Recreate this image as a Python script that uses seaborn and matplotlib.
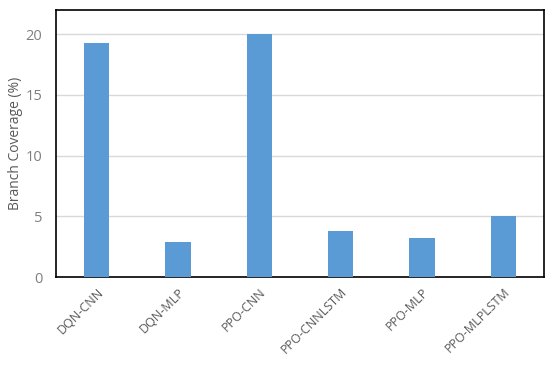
import matplotlib
matplotlib.use("Agg")
import matplotlib.pyplot as plt
import seaborn as sns
import pandas as pd

models = ["DQN-CNN", "DQN-MLP", "PPO-CNN", "PPO-CNNLSTM", "PPO-MLP", "PPO-MLPLSTM"]
coverage = [19.3, 2.9, 20.0, 3.8, 3.2, 5.0]

df = pd.DataFrame({"Model": models, "Coverage": coverage})

sns.set_style("white")
plt.rcParams["font.family"] = ["Open Sans", "DejaVu Sans"]

fig, ax = plt.subplots(figsize=(5.5, 3.69), dpi=100)
sns.barplot(data=df, x="Model", y="Coverage", color="#5B9BD5", width=0.31,
            saturation=1, linewidth=0, ax=ax, zorder=3)

ax.set_ylim(0, 22)
ax.set_yticks([0, 5, 10, 15, 20])
ax.yaxis.grid(True, color="#d9d9d9", linewidth=1, zorder=0)
ax.set_axisbelow(True)
ax.set_xlabel("")
ax.set_ylabel("Branch Coverage (%)", fontsize=10, color="#595959")
ax.yaxis.set_label_coords(-0.068, 0.5)
ax.tick_params(axis="y", length=0, labelsize=10.5, labelcolor="#7f7f7f", pad=10)
ax.tick_params(axis="x", length=0, labelsize=9, labelcolor="#595959", pad=6)
plt.setp(ax.get_xticklabels(), rotation=45, ha="right", rotation_mode="anchor")

for s in ax.spines.values():
    s.set_color("black")
    s.set_linewidth(1.2)

fig.subplots_adjust(left=0.102, right=0.989, top=0.973, bottom=0.249)
fig.savefig("out.png", dpi=100)
